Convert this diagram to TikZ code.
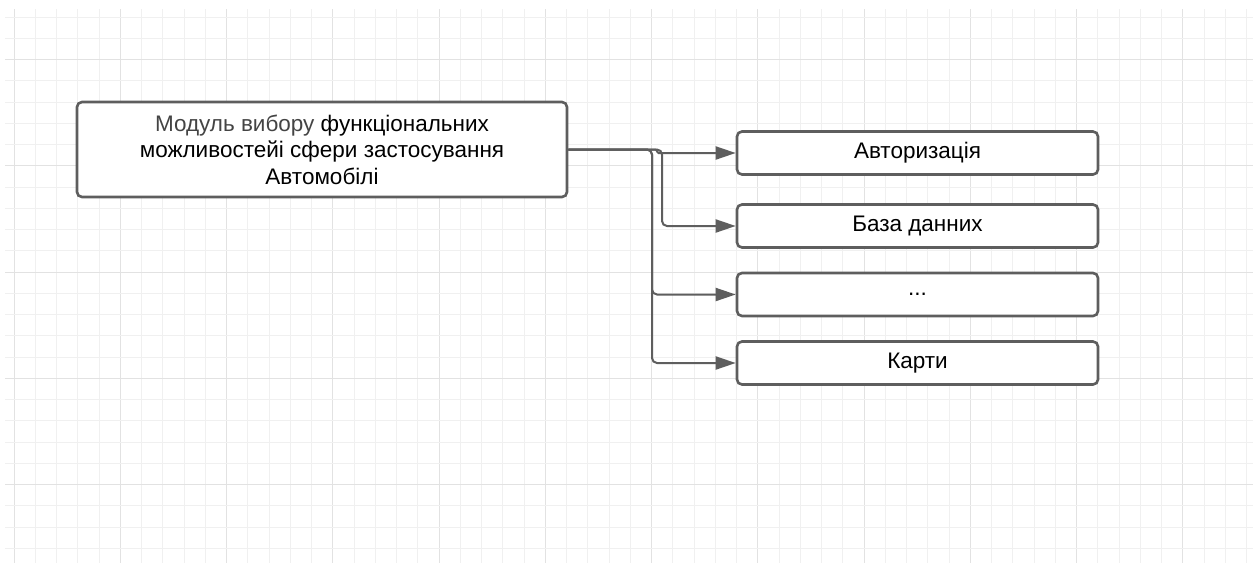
\documentclass[tikz,border=0pt]{standalone}
\usepackage{fontspec}
\setmainfont{Liberation Sans}
\usetikzlibrary{arrows.meta}
\definecolor{edge}{HTML}{5E5E5E}
\definecolor{gridminor}{HTML}{F0F0F0}
\definecolor{gridmajor}{HTML}{E2E2E2}
\definecolor{graytext}{HTML}{444444}
\tikzset{
  boxstyle/.style={draw=edge, line width=2.6pt, rounded corners=5pt, fill=white, inner sep=0pt, align=center, font=\fontsize{22.5}{26.5}\selectfont},
  conn/.style={draw=edge, line width=2pt, rounded corners=5pt, -{Triangle[length=20pt,width=13pt]}}
}
\begin{document}
\begin{tikzpicture}[x=1pt,y=-1pt]
\useasboundingbox (0,0) rectangle (1258,563);
\fill[white] (0,0) rectangle (1258,563);
% grid
\foreach \k in {0,...,58} {
  \pgfmathsetmacro{\xx}{14+21.25*\k}
  \pgfmathtruncatemacro{\m}{mod(\k,5)}
  \ifnum\m=0
    \draw[gridmajor, line width=1pt] (\xx,9) -- (\xx,563);
  \else
    \draw[gridminor, line width=1pt] (\xx,9) -- (\xx,563);
  \fi
}
\foreach \k in {0,...,25} {
  \pgfmathsetmacro{\yy}{17+21.25*\k}
  \pgfmathtruncatemacro{\m}{mod(\k+3,5)}
  \ifnum\m=0
    \draw[gridmajor, line width=1pt] (5,\yy) -- (1253,\yy);
  \else
    \draw[gridminor, line width=1pt] (5,\yy) -- (1253,\yy);
  \fi
}
% nodes
\node[boxstyle, minimum width=490pt, minimum height=95pt] (main) at (322,149.5)
  {{\color{graytext}Модуль вибору} функціональних\\можливостейі сфери застосування\\Автомобілі};
\node[boxstyle, minimum width=361pt, minimum height=43pt] (b1) at (917.5,153) {Авторизація};
\node[boxstyle, minimum width=361pt, minimum height=43pt] (b2) at (917.5,226) {База данних};
\node[boxstyle, minimum width=361pt, minimum height=43pt] (b3) at (917.5,294.5) {...};
\node[boxstyle, minimum width=361pt, minimum height=43pt] (b4) at (917.5,363) {Карти};
% connectors
\coordinate (j1) at (657,149.5);
\coordinate (j2) at (662,149.5);
\coordinate (j3) at (652,149.5);
\draw[conn, rounded corners=1.5pt] (main.east) -- (j1) |- (b1.west);
\draw[conn] (main.east) -- (j2) |- (b2.west);
\draw[conn] (main.east) -- (j3) |- (b3.west);
\draw[conn] (main.east) -- (j3) |- (b4.west);
\end{tikzpicture}
\end{document}
